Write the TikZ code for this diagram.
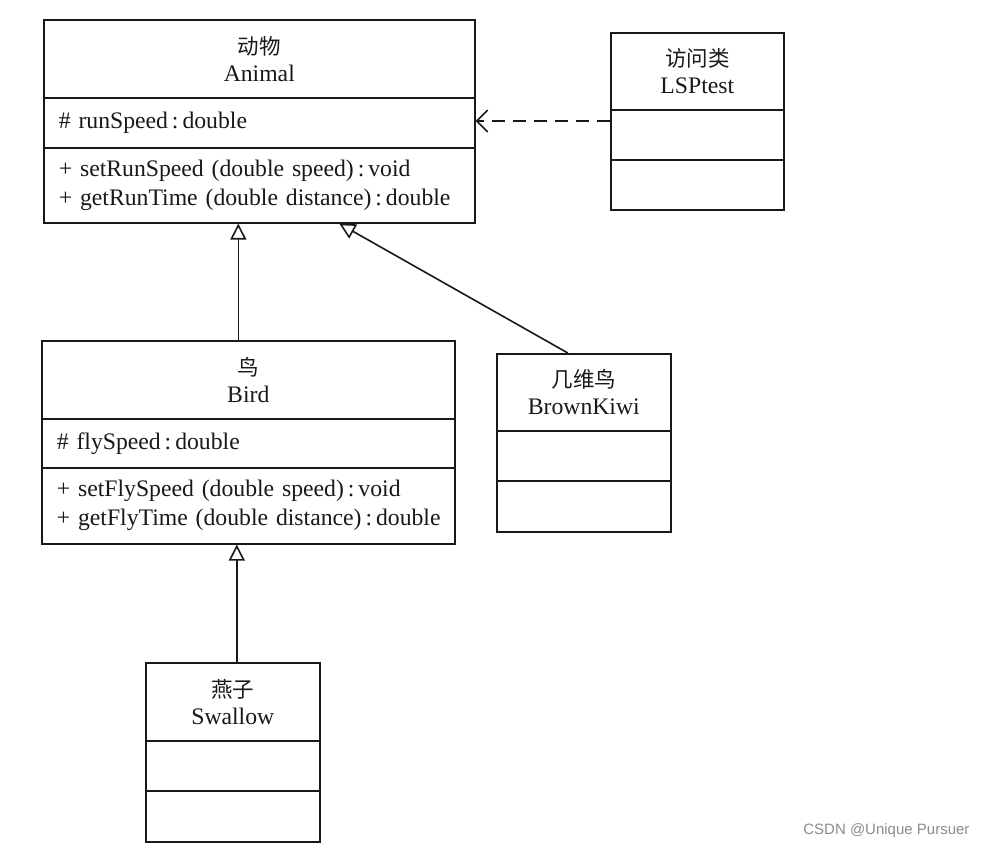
\documentclass[tikz,border=0pt]{standalone}
\usepackage{fontspec}
\setmainfont{Liberation Serif}
\newfontfamily\cjk{Noto Sans CJK SC}
\newfontfamily\wmfont{Liberation Sans}
\usetikzlibrary{arrows.meta}
\newcommand{\cjkt}[1]{{\cjk\fontsize{21.5}{27}\selectfont #1}}
\begin{document}
\begin{tikzpicture}[x=1pt,y=-1pt,
  box/.style={draw=black!90, line width=1.6pt, anchor=north west, inner sep=0pt,
              text=black!90, font=\fontsize{23.7}{27}\selectfont},
  title/.style={box, align=center},
  member/.style={box, inner xsep=15pt, align=left, font=\fontsize{23.7}{29}\selectfont},
  gen/.style={draw=black!90, line width=1.6pt, -{Triangle[open, length=16pt, width=16pt, fill=white]}},
  dep/.style={draw=black!90, line width=1.6pt, dash pattern=on 13pt off 8pt, -{Straight Barb[length=11pt, width=22pt]}},
  wmark/.style={font=\wmfont\fontsize{15}{18}\selectfont, text=black!45, anchor=east}
]
\useasboundingbox[fill=white] (0,0) rectangle (988,850);

% Animal
\node[title, minimum width=431pt, minimum height=78pt] (animalT) at (43,19) {\cjkt{动物}\\Animal};
\node[member, text width=401pt, minimum height=50pt] (animalA) at (43,97) {\mbox{\# runSpeed\,:\,double}};
\node[member, text width=401pt, minimum height=75pt] (animalM) at (43,147)
  {\mbox{+ setRunSpeed (double speed)\,:\,void}\\\mbox{+ getRunTime (double distance)\,:\,double}};

% LSPtest
\node[title, minimum width=173pt, minimum height=77pt] (lspT) at (610,32) {\cjkt{访问类}\\LSPtest};
\node[box, minimum width=173pt, minimum height=50pt] (lspA) at (610,109) {};
\node[box, minimum width=173pt, minimum height=50pt] (lspM) at (610,159) {};

% Bird
\node[title, minimum width=413pt, minimum height=78pt] (birdT) at (41,340) {\cjkt{鸟}\\Bird};
\node[member, text width=383pt, minimum height=49pt] (birdA) at (41,418) {\mbox{\# flySpeed\,:\,double}};
\node[member, text width=383pt, minimum height=76pt] (birdM) at (41,467)
  {\mbox{+ setFlySpeed (double speed)\,:\,void}\\\mbox{+ getFlyTime (double distance)\,:\,double}};

% BrownKiwi
\node[title, minimum width=174pt, minimum height=77pt] (kiwiT) at (496,353) {\cjkt{几维鸟}\\BrownKiwi};
\node[box, minimum width=174pt, minimum height=50pt] (kiwiA) at (496,430) {};
\node[box, minimum width=174pt, minimum height=51pt] (kiwiM) at (496,480) {};

% Swallow
\node[title, minimum width=174pt, minimum height=78pt] (swT) at (145,662) {\cjkt{燕子}\\Swallow};
\node[box, minimum width=174pt, minimum height=50pt] (swA) at (145,740) {};
\node[box, minimum width=174pt, minimum height=51pt] (swM) at (145,790) {};

% connectors
\draw[gen] ([xshift=-10pt]birdT.north) coordinate (b1) -- (b1 |- animalM.south);
\draw[gen] ([xshift=-16pt]kiwiT.north) -- ([xshift=80pt]animalM.south);
\draw[gen] ([xshift=4pt]swT.north) coordinate (s1) -- (s1 |- birdM.south);
\draw[dep] ([yshift=-12pt]lspA.north west) coordinate (d1) -- (d1 -| animalA.east);

\node[wmark] (wm) at (973,831) {CSDN @Unique Pursuer};
\end{tikzpicture}
\end{document}
